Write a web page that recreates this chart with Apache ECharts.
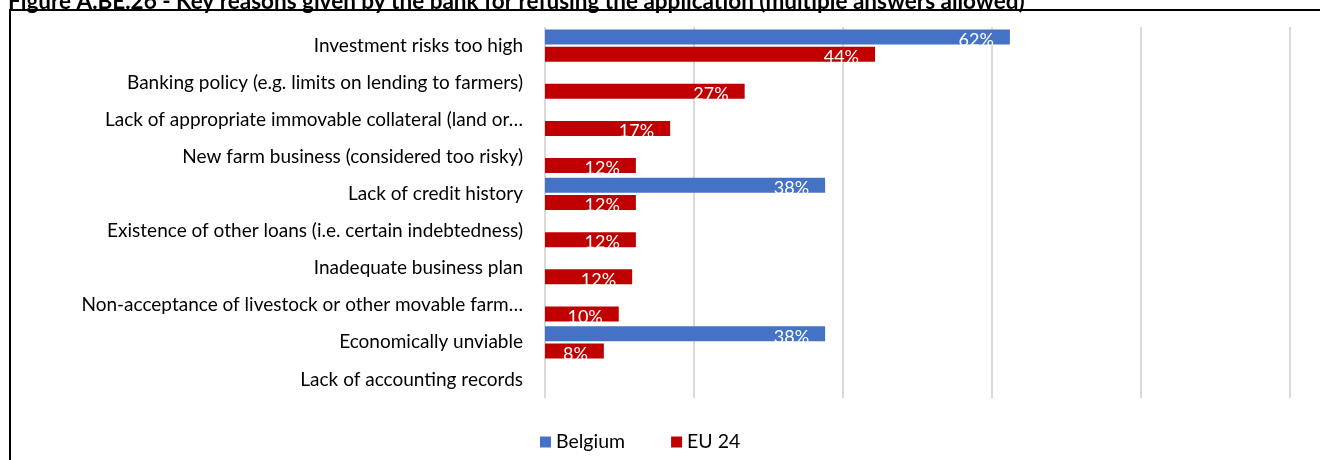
<!DOCTYPE html>
<html>
<head>
<meta charset="utf-8">
<script src="https://cdn.jsdelivr.net/npm/echarts@6/dist/echarts.min.js"></script>
<style>
  html, body { margin: 0; padding: 0; background: #fff; }
  #chart { width: 1320px; height: 460px; }
</style>
</head>
<body>
<div id="chart"></div>
<script>
// reasons for refusal, top to bottom
var categories = [
    'Investment risks too high',
    'Banking policy (e.g. limits on lending to farmers)',
    'Lack of appropriate immovable collateral (land or…',
    'New farm business (considered too risky)',
    'Lack of credit history',
    'Existence of other loans (i.e. certain indebtedness)',
    'Inadequate business plan',
    'Non-acceptance of livestock or other movable farm…',
    'Economically unviable',
    'Lack of accounting records'
];
var belgium = [62.4, null, null, null, 37.6, null, null, null, 37.6, null];
var eu24 = [44.3, 26.8, 16.8, 12.2, 12.2, 12.2, 11.7, 9.9, 7.9, null];
var titleText = 'Figure A.BE.26 - Key reasons given by the bank for refusing the application (multiple answers allowed)';

var FONT = 'Lato';
var myChart = echarts.init(document.getElementById('chart'));

var barLabel = {
    show: true,
    position: 'insideRight',
    distance: 16,
    offset: [0, 3],
    color: '#fff',
    fontFamily: FONT,
    fontSize: 18,
    formatter: function (p) { return Math.round(p.value) + '%'; }
};

var option = {
    animation: false,
    textStyle: { fontFamily: FONT },
    graphic: [
        {
            type: 'rect',
            shape: { x: 10, y: 10, width: 1340, height: 480 },
            style: { fill: 'none', stroke: '#000', lineWidth: 2 },
            z: -1
        },
        {
            type: 'text',
            x: 8,
            y: -10,
            style: {
                text: titleText,
                font: 'bold 22.5px Lato',
                fill: '#000'
            }
        }
    ],
    legend: {
        bottom: 3,
        left: 535,
        itemWidth: 11,
        itemHeight: 11,
        itemGap: 46,
        icon: 'rect',
        textStyle: { fontFamily: FONT, fontSize: 19.5, color: '#000' },
        data: ['Belgium', 'EU 24']
    },
    grid: { left: 545, right: 30, top: 27, bottom: 62 },
    xAxis: {
        type: 'value',
        min: 0,
        max: 100,
        interval: 20,
        axisLabel: { show: false },
        axisLine: { show: false },
        axisTick: { show: false },
        splitLine: { lineStyle: { color: '#d9d9d9', width: 2 } }
    },
    yAxis: {
        type: 'category',
        inverse: true,
        data: categories,
        axisLine: { show: false },
        axisTick: { show: false },
        axisLabel: { margin: 22, fontFamily: FONT, fontSize: 19, color: '#000' }
    },
    series: [
        {
            name: 'Belgium',
            type: 'bar',
            barWidth: 15,
            barGap: '15%',
            itemStyle: { color: '#4472c4' },
            label: barLabel,
            data: belgium
        },
        {
            name: 'EU 24',
            type: 'bar',
            barWidth: 15,
            barGap: '15%',
            itemStyle: { color: '#c00000' },
            label: barLabel,
            data: eu24
        }
    ]
};
myChart.setOption(option);
</script>
</body>
</html>
